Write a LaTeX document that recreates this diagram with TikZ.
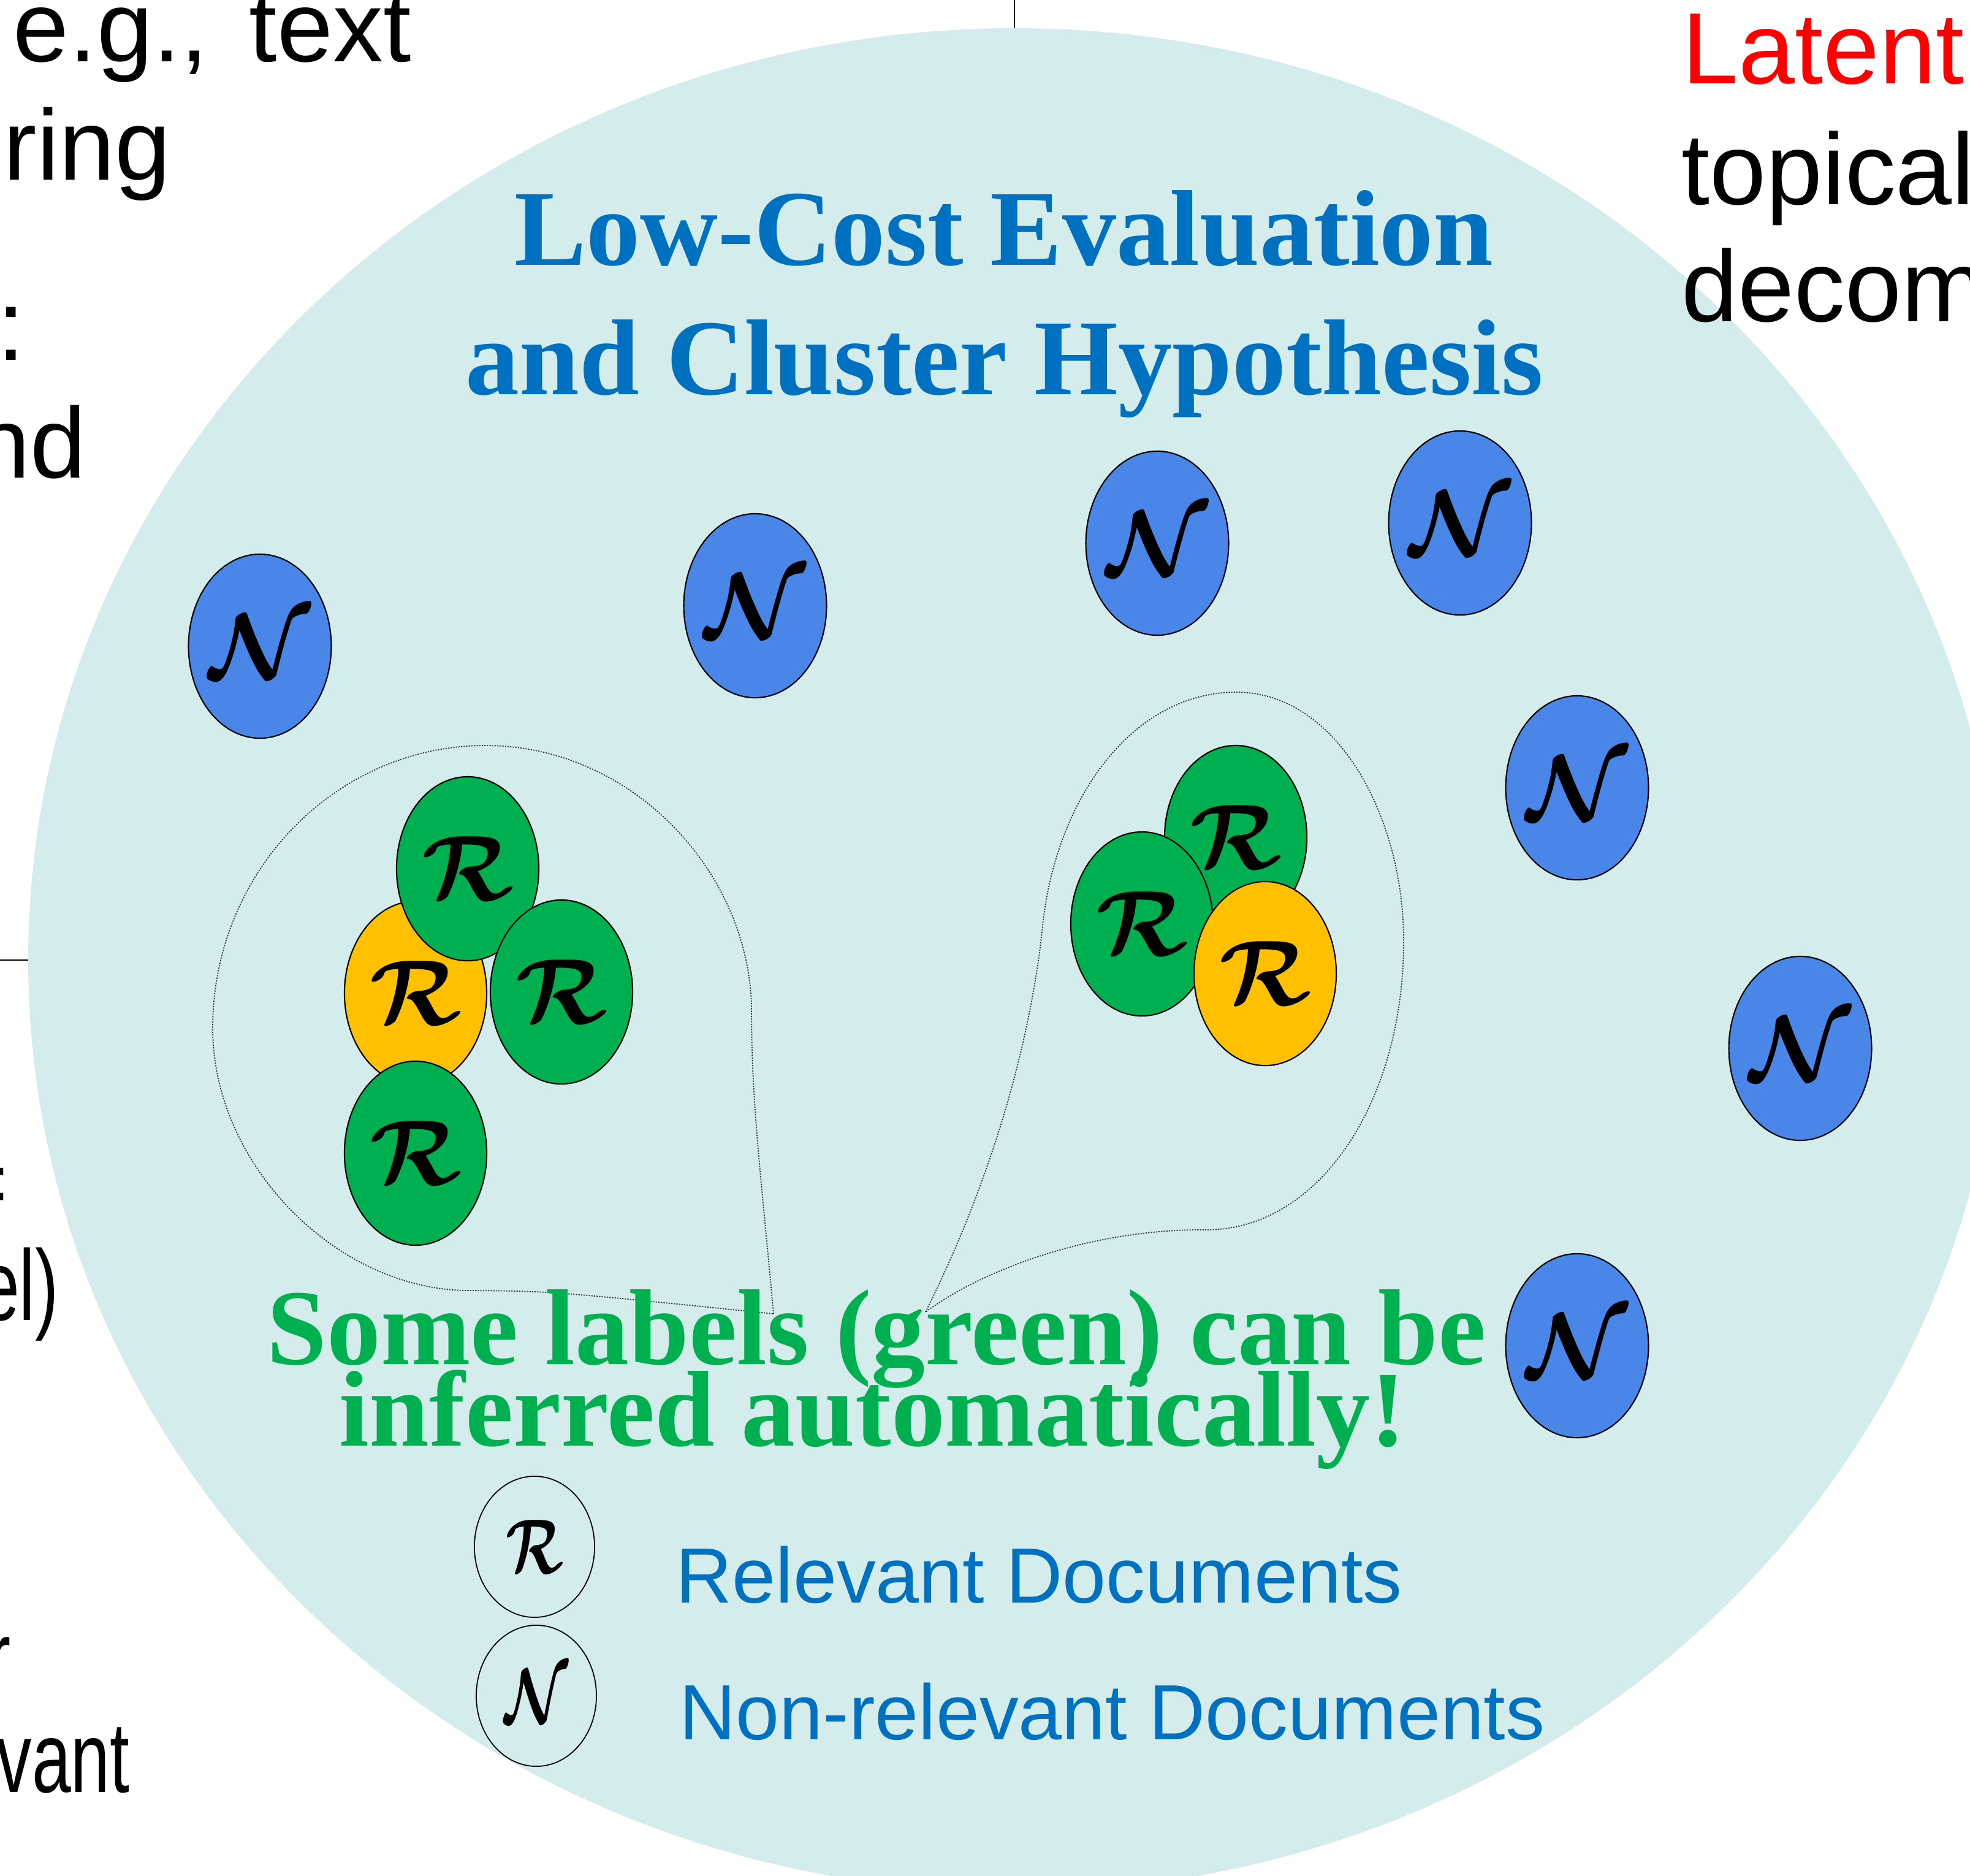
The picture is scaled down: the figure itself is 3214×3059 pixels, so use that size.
\documentclass[tikz,border=0pt]{standalone}
\usepackage{amsmath}
\usepackage{graphicx}
\usepackage{fontspec}
\setmainfont{Liberation Serif}
\setsansfont{Liberation Sans}
\usetikzlibrary{shapes.geometric}

\definecolor{pane}{HTML}{D4ECEC}
\definecolor{nblue}{HTML}{4A86E8}
\definecolor{rgreen}{HTML}{00B050}
\definecolor{ryellow}{HTML}{FFC000}
\definecolor{titleblue}{HTML}{0070C0}

\newcommand{\docR}{\scalebox{4.3}{$\boldsymbol{\mathcal{R}}$}}
\newcommand{\docN}{\scalebox{4.3}{$\boldsymbol{\mathcal{N}}$}}
\newcommand{\keyR}{\scalebox{2.7}[3.6]{$\boldsymbol{\mathcal{R}}$}}
\newcommand{\keyN}{\scalebox{2.7}[3.6]{$\boldsymbol{\mathcal{N}}$}}
\newcommand{\narrow}[1]{\scalebox{0.7}[1]{#1}}

\begin{document}
\begin{tikzpicture}[x=0.01cm, y=-0.01cm,
    doc/.style={ellipse, draw=black, line width=0.6pt, inner sep=0pt,
      minimum width=2.32cm, minimum height=3cm},
    ndoc/.style={doc, fill=nblue},
    rdoc/.style={doc, fill=rgreen},
    ydoc/.style={doc, fill=ryellow},
    keydoc/.style={ellipse, draw=black, line width=0.5pt, inner sep=0pt,
      minimum width=1.96cm, minimum height=2.3cm},
    bubble/.style={draw=black!80, line width=0.5pt, dash pattern=on 0.6pt off 0.6pt},
    side/.style={font=\sffamily\fontsize{46.5}{56}\selectfont, inner sep=0pt},
    heading/.style={font=\bfseries\fontsize{50}{60}\selectfont, text=titleblue,
      inner sep=0pt, anchor=base},
    note/.style={font=\bfseries\fontsize{50}{60}\selectfont, text=rgreen,
      inner sep=0pt, anchor=base},
    keytext/.style={font=\sffamily\fontsize{36.3}{43}\selectfont, text=titleblue,
      inner sep=0pt, anchor=base west}]

    \useasboundingbox (0,0) rectangle (3214,3059);
    \clip (0,0) rectangle (3214,3059);

    \draw[line width=0.6pt] (1655,0) -- (1655,60);
    \draw[line width=0.6pt] (0,1566) -- (60,1566);
    \fill[pane] (1655,1566) ellipse [x radius=1609, y radius=1520];

    % text of the slides next to this one
    \begin{scope}[every node/.style={side, anchor=base west}]
      \node (eg) at (21,100) {e.g.,\hspace{0.41em}text};
      \node (ring) at (5,293) {ring};
      \node (colon) at (-5,587) {:};
      \node (nd) [anchor=base east] at (141,779) {nd};
      \node (eq) [anchor=base east] at (12,1985) {\narrow{=}};
      \node (el) [anchor=base east] at (96,2153) {\narrow{el)}};
      \node (r) [anchor=base east] at (18,2758) {\narrow{r}};
      \node (vant) [anchor=base east] at (212,2923) {\narrow{vant}};
      \node (latent) [font=\sffamily\fontsize{47}{57}\selectfont, text=red] at (2744,136) {Latent};
      \node (topical) [font=\sffamily\fontsize{47}{57}\selectfont] at (2743,333) {topical};
      \node (decom) [font=\sffamily\fontsize{47}{57}\selectfont] at (2743,524) {decom};
    \end{scope}

    \node (title1) [heading] at (1638,432) {Low-Cost Evaluation};
    \node (title2) [heading] at (1639,643) {and Cluster Hypothesis};

    % clusters
    \draw[bubble] (1262,2143) .. controls (1240,1900) and (1226,1800) .. (1226,1640)
      .. controls (1220,1420) and (1030,1216) .. (792,1216)
      .. controls (547,1216) and (347,1423) .. (347,1677)
      .. controls (347,1900) and (550,2105) .. (766,2105)
      .. controls (900,2106) .. (1262,2143) -- cycle;
    \draw[bubble] (1510,2140) .. controls (1620,1920) and (1680,1700) .. (1700,1520)
      .. controls (1720,1300) and (1850,1129) .. (2017,1129)
      .. controls (2180,1129) and (2290,1330) .. (2290,1535)
      .. controls (2290,1800) and (2150,2006) .. (1968,2006)
      .. controls (1800,2004) and (1620,2060) .. (1510,2140) -- cycle;

    \node (n1) [ndoc] at (424,1054) {\docN};
    \node (n2) [ndoc] at (1232,988) {\docN};
    \node (n3) [ndoc] at (1888,886) {\docN};
    \node (n4) [ndoc] at (2382,853) {\docN};
    \node (n5) [ndoc] at (2573,1285) {\docN};
    \node (n6) [ndoc] at (2937,1710) {\docN};
    \node (n7) [ndoc] at (2573,2195) {\docN};

    \node (ra) [ydoc] at (678,1620) {\docR};
    \node (rb) [rdoc] at (763,1417) {\docR};
    \node (rc) [rdoc] at (916,1618) {\docR};
    \node (rd) [rdoc] at (678,1881) {\docR};

    \node (re) [rdoc] at (2016,1366) {\docR};
    \node (rf) [rdoc] at (1863,1507) {\docR};
    \node (rg) [ydoc] at (2064,1588) {\docR};

    \node (note1) [note] at (1430,2225) {Some labels (green) can be};
    \node (note2) [note] at (1424,2358) {inferred automatically!};

    % legend
    \node (keyr) [keydoc] at (872,2523) {\keyR};
    \node (keyn) [keydoc] at (875,2766) {\keyN};
    \node (keyrtext) [keytext] at (1102,2614) {Relevant Documents};
    \node (keyntext) [keytext] at (1108,2837) {Non-relevant Documents};
  \end{tikzpicture}
\end{document}
